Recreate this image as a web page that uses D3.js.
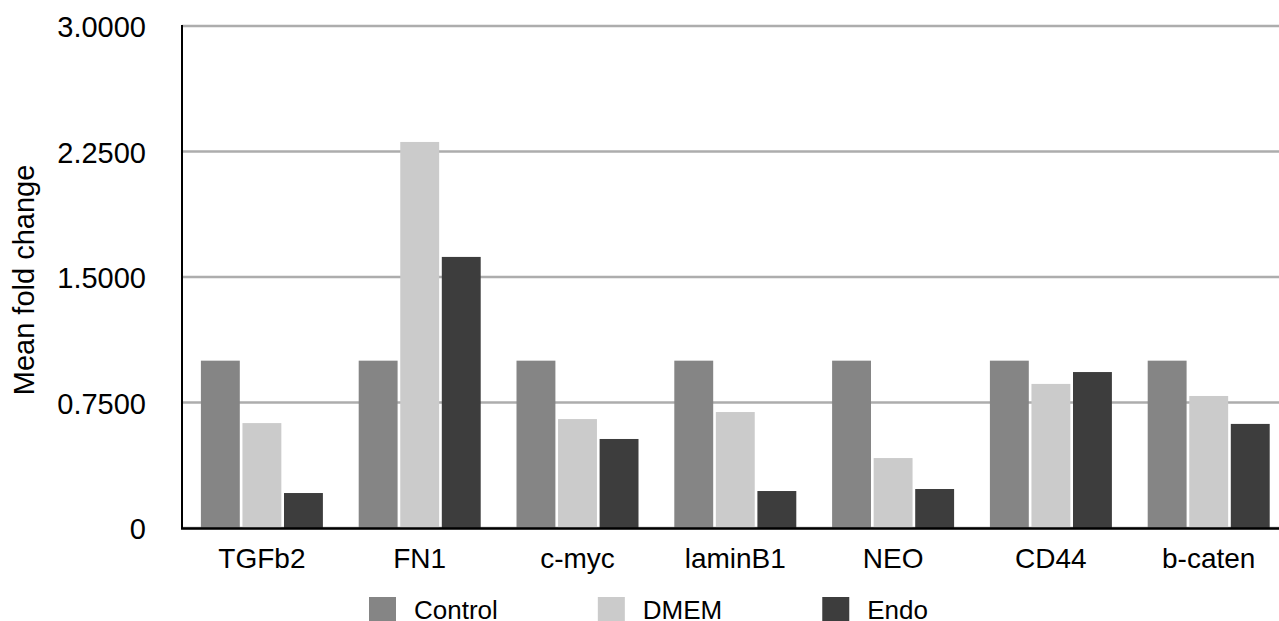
<!DOCTYPE html>
<html>
<head>
<meta charset="utf-8">
<script src="https://cdn.jsdelivr.net/npm/d3@7"></script>
<style>
  html, body { margin: 0; padding: 0; background: #fff; }
  svg { display: block; }
  text { font-family: "Liberation Sans", Arial, Helvetica, sans-serif; fill: #000; }
</style>
</head>
<body>
<svg id="chart" width="1279" height="621"></svg>
<script>
const categories = ["TGFb2", "FN1", "c-myc", "laminB1", "NEO", "CD44", "b-caten"];
const seriesNames = ["Control", "DMEM", "Endo"];
const controlValues = [1.0, 1.0, 1.0, 1.0, 1.0, 1.0, 1.0];
const dmemValues = [0.627, 2.307, 0.651, 0.693, 0.418, 0.861, 0.789];
const endoValues = [0.209, 1.620, 0.532, 0.221, 0.233, 0.932, 0.622];
const yTicks = [0, 0.75, 1.5, 2.25, 3.0];
const seriesColors = ["#858585", "#cbcbcb", "#3d3d3d"];

const seriesValues = [controlValues, dmemValues, endoValues];

(function () {
const svg = d3.select("#chart");
const W = 1279;
const mLeft = 182, mTop = 26, mBottom = 528;
const step = 157.8;

const y = d3.scaleLinear().domain([0, 3]).range([mBottom, mTop]);
const x = d3.scaleBand().domain(categories).range([mLeft + 1, mLeft + 1 + step * categories.length]).padding(0);
const groupW = 122;
const xs = d3.scaleBand().domain(seriesNames).range([0, groupW]).paddingInner(0.064);

// gridlines
svg.append("g").selectAll("line").data(yTicks).join("line")
  .attr("x1", mLeft).attr("x2", W)
  .attr("y1", d => y(d)).attr("y2", d => y(d))
  .attr("stroke", "#adadad").attr("stroke-width", 2.5);

// bars
const groups = svg.append("g").selectAll("g").data(categories).join("g")
  .attr("transform", c => `translate(${x(c) + (x.bandwidth() - groupW) / 2},0)`);
groups.selectAll("rect").data((c, i) => seriesNames.map((s, j) => ({s, v: seriesValues[j][i], j})))
  .join("rect")
  .attr("x", d => xs(d.s))
  .attr("width", xs.bandwidth())
  .attr("y", d => y(d.v))
  .attr("height", d => y(0) - y(d.v))
  .attr("fill", d => seriesColors[d.j]);

// axes lines
svg.append("line").attr("x1", mLeft).attr("x2", mLeft).attr("y1", mTop - 1).attr("y2", mBottom + 1)
  .attr("stroke", "#000").attr("stroke-width", 2);
svg.append("line").attr("x1", mLeft - 1).attr("x2", W).attr("y1", mBottom + 0.5).attr("y2", mBottom + 0.5)
  .attr("stroke", "#000").attr("stroke-width", 2.5);

// y tick labels
const fmt = d => d === 0 ? "0" : d3.format(".4f")(d);
svg.append("g").selectAll("text").data(yTicks).join("text")
  .attr("x", 146).attr("y", d => y(d) + 11)
  .attr("text-anchor", "end")
  .style("font-size", "29px")
  .text(fmt);

// x labels
svg.append("g").selectAll("text").data(categories).join("text")
  .attr("x", c => x(c) + x.bandwidth() / 2)
  .attr("y", 568)
  .attr("text-anchor", "middle")
  .style("font-size", "28px")
  .text(c => c);

// y axis title
svg.append("text")
  .attr("transform", `translate(34,${(mTop + mBottom) / 2 + 3}) rotate(-90)`)
  .attr("text-anchor", "middle")
  .style("font-size", "29px")
  .text("Mean fold change");

// legend
const legend = svg.append("g");
let lx = 369;
seriesNames.forEach((s, j) => {
  legend.append("rect").attr("x", lx).attr("y", 597).attr("width", 27).attr("height", 27).attr("fill", seriesColors[j]);
  const t = legend.append("text").attr("x", lx + 45).attr("y", 619).style("font-size", "26px").text(s);
  lx += 45 + t.node().getComputedTextLength() + 100;
});
})();
</script>
</body>
</html>
